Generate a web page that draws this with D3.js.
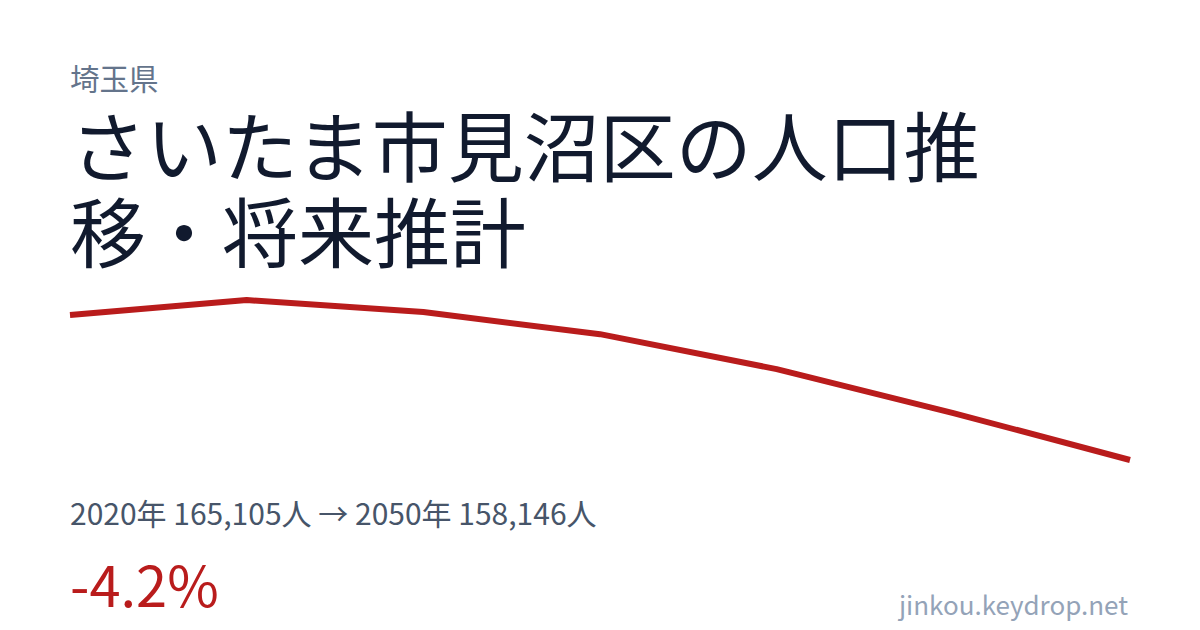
<!DOCTYPE html>
<html lang="ja">
<head>
<meta charset="UTF-8">
<title>さいたま市見沼区の人口推移</title>
<script src="https://d3js.org/d3.v7.min.js"></script>
<style>
    body { margin: 0; background: #fff; }
    svg { display: block; font-family: "Noto Sans CJK JP", "Noto Sans", sans-serif; }
</style>
</head>
<body>
<svg id="canvas" width="1200" height="630"></svg>
<script>
    // population (persons), every 5 years
    const years = [2020, 2025, 2030, 2035, 2040, 2045, 2050]
    const population = [165105, 165830, 165250, 164190, 162510, 160400, 158146]

    const prefecture = "埼玉県"
    const title = "さいたま市見沼区の人口推移・将来推計"
    const summary = "2020年 165,105人 → 2050年 158,146人"
    const change = "-4.2%"
    const site = "jinkou.keydrop.net"

    const svg = d3.select("#canvas")

    svg.append("rect").attr("width", 1200).attr("height", 630).attr("fill", "#fff")

    svg.append("text")
        .attr("x", 70).attr("y", 90)
        .attr("font-size", 29.5)
        .attr("fill", "#64748b")
        .text(prefecture)

    // title, wrapped by width
    let titleText = svg.append("text")
        .attr("x", 70).attr("y", 176)
        .attr("font-size", 76)
        .attr("fill", "#111a2e")
    let chars = Array.from(title)
    let line = ""
    let tspan = titleText.append("tspan").attr("x", 70).attr("dy", 0)
    chars.forEach(function (c) {
        tspan.text(line + c)
        if (tspan.node().getComputedTextLength() > 960) {
            tspan.text(line)
            line = c
            tspan = titleText.append("tspan").attr("x", 70).attr("dy", 86).text(c)
        } else {
            line = line + c
        }
    })

    let x = d3.scaleLinear().domain(d3.extent(years)).range([70, 1130])
    let y = d3.scaleLinear().domain(d3.extent(population)).range([460, 300])

    let lineGen = d3.line()
        .x(function (d, i) { return x(years[i]) })
        .y(function (d) { return y(d) })

    svg.append("path")
        .datum(population)
        .attr("d", lineGen)
        .attr("fill", "none")
        .attr("stroke", "#b91c1c")
        .attr("stroke-width", 6)
        .attr("stroke-linejoin", "round")

    svg.append("text")
        .attr("x", 70).attr("y", 525)
        .attr("font-size", 30)
        .attr("fill", "#475569")
        .text(summary)

    svg.append("text")
        .attr("x", 70).attr("y", 607)
        .attr("font-size", 56)
        .attr("fill", "#b91c1c")
        .text(change)

    svg.append("text")
        .attr("x", 1128).attr("y", 615)
        .attr("text-anchor", "end")
        .attr("font-size", 26)
        .attr("fill", "#94a3b8")
        .text(site)
</script>
</body>
</html>
